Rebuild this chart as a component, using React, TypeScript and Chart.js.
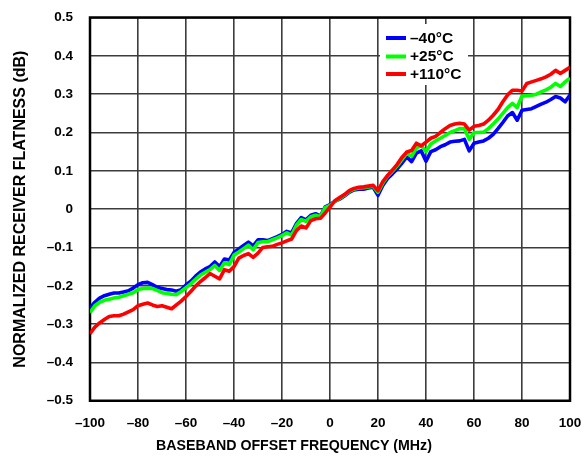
import React, { useEffect, useRef } from "react";
import { Chart, registerables } from "chart.js";

Chart.register(...registerables);

const FREQ_MHZ = [
  -100, -98, -96, -94, -92, -90, -88, -86, -84, -82, -80, -78, -76, -74, -72, -70, -68, -66, -64, -62,
  -60, -58, -56, -54, -52, -50, -48, -46, -44, -42, -40, -38, -36, -34, -32, -30, -28, -26, -24, -22,
  -20, -18, -16, -14, -12, -10, -8, -6, -4, -2, 0, 2, 4, 6, 8, 10, 12, 14, 16, 18,
  20, 22, 24, 26, 28, 30, 32, 34, 36, 38, 40, 42, 44, 46, 48, 50, 52, 54, 56, 58,
  60, 62, 64, 66, 68, 70, 72, 74, 76, 78, 80, 82, 84, 86, 88, 90, 92, 94, 96, 98, 100,
];

const FLAT_M40C = [
  -0.258, -0.243, -0.232, -0.226, -0.222, -0.219, -0.219, -0.216, -0.213, -0.206, -0.197, -0.192, -0.191, -0.197, -0.204, -0.207, -0.21, -0.211, -0.214, -0.21,
  -0.198, -0.188, -0.175, -0.164, -0.156, -0.15, -0.138, -0.15, -0.13, -0.133, -0.113, -0.104, -0.095, -0.086, -0.096, -0.08, -0.08, -0.082, -0.077, -0.072,
  -0.066, -0.058, -0.062, -0.038, -0.022, -0.028, -0.016, -0.012, -0.018, 0.006, 0.012, 0.02, 0.026, 0.034, 0.044, 0.05, 0.052, 0.052, 0.055, 0.057,
  0.036, 0.062, 0.08, 0.092, 0.105, 0.12, 0.136, 0.124, 0.146, 0.152, 0.125, 0.15, 0.155, 0.163, 0.168, 0.175, 0.177, 0.178, 0.182, 0.152,
  0.172, 0.175, 0.178, 0.185, 0.195, 0.21, 0.226, 0.243, 0.252, 0.232, 0.258, 0.26, 0.262, 0.268, 0.274, 0.279, 0.286, 0.294, 0.29, 0.28, 0.298,
];

const FLAT_P25C = [
  -0.27, -0.252, -0.243, -0.238, -0.235, -0.232, -0.23, -0.226, -0.222, -0.218, -0.21, -0.207, -0.206, -0.207, -0.212, -0.218, -0.22, -0.222, -0.223, -0.215,
  -0.205, -0.195, -0.183, -0.172, -0.165, -0.158, -0.147, -0.16, -0.14, -0.145, -0.12, -0.112, -0.103, -0.094, -0.106, -0.087, -0.085, -0.085, -0.08, -0.075,
  -0.069, -0.062, -0.068, -0.042, -0.027, -0.032, -0.02, -0.016, -0.02, 0.004, 0.01, 0.02, 0.028, 0.036, 0.046, 0.052, 0.055, 0.056, 0.058, 0.06,
  0.044, 0.068, 0.086, 0.099, 0.113, 0.129, 0.146, 0.138, 0.16, 0.166, 0.15, 0.17, 0.178, 0.185, 0.192, 0.2, 0.205, 0.21, 0.21, 0.182,
  0.2, 0.2, 0.201, 0.21, 0.222, 0.235, 0.25, 0.265, 0.276, 0.265, 0.295, 0.296, 0.297, 0.3, 0.306, 0.311, 0.318, 0.328, 0.32, 0.332, 0.342,
];

const FLAT_P110C = [
  -0.325, -0.308, -0.297, -0.288, -0.28, -0.278, -0.278, -0.274, -0.268, -0.262, -0.252, -0.248, -0.245, -0.25, -0.254, -0.252, -0.256, -0.26, -0.25, -0.24,
  -0.228, -0.215, -0.201, -0.189, -0.179, -0.168, -0.175, -0.182, -0.158, -0.162, -0.15, -0.128, -0.121, -0.116, -0.126, -0.115, -0.1, -0.098, -0.097, -0.092,
  -0.088, -0.083, -0.078, -0.056, -0.044, -0.049, -0.03, -0.025, -0.024, -0.01, 0.005, 0.022, 0.03, 0.038, 0.048, 0.054, 0.057, 0.058, 0.06, 0.062,
  0.048, 0.072, 0.088, 0.102, 0.117, 0.135, 0.149, 0.153, 0.172, 0.165, 0.175, 0.185, 0.19, 0.2, 0.21, 0.218, 0.222, 0.224, 0.222, 0.206,
  0.216, 0.218, 0.222, 0.232, 0.245, 0.26, 0.28, 0.298, 0.31, 0.31, 0.308, 0.328, 0.332, 0.336, 0.34, 0.345, 0.352, 0.362, 0.354, 0.362, 0.37,
];

const SERIES_LABELS = ["\u201340\u00B0C", "+25\u00B0C", "+110\u00B0C"];
const SERIES_COLORS = ["#0000ff", "#00ff00", "#ff0000"];

const X_TITLE = "BASEBAND OFFSET FREQUENCY (MHz)";
const Y_TITLE = "NORMALIZED RECEIVER FLATNESS (dB)";

const FONT = "'Liberation Sans', Arial, Helvetica, sans-serif";

function fmt(v: number): string {
  const r = Math.round(v * 10) / 10;
  if (r === 0) return "0";
  const isInt = Math.abs(r - Math.round(r)) < 1e-9 && Math.abs(r) >= 1;
  const s = isInt ? String(Math.abs(r)) : Math.abs(r).toFixed(1);
  return r < 0 ? "\u2013" + s : s;
}

function noPad(s: any) {
  s.paddingTop = 0;
  s.paddingBottom = 0;
  s.paddingLeft = 0;
  s.paddingRight = 0;
}

const framePlugin = {
  id: "frame",
  beforeDatasetsDraw(chart: any) {
    const { ctx, chartArea } = chart;
    ctx.save();
    ctx.strokeStyle = "#000";
    ctx.lineWidth = 2.5;
    ctx.strokeRect(chartArea.left, chartArea.top, chartArea.right - chartArea.left, chartArea.bottom - chartArea.top);
    ctx.restore();
  },
};

const legendPlugin = {
  id: "insideLegend",
  afterDatasetsDraw(chart: any) {
    const { ctx, chartArea } = chart;
    const x0 = chartArea.left + 290;
    const y0 = chartArea.top + 6.5;
    ctx.save();
    ctx.fillStyle = "#fff";
    ctx.fillRect(x0, y0, 88, 61);
    const rows = [14, 32.5, 50];
    ctx.font = `bold 15.5px ${FONT}`;
    ctx.textBaseline = "middle";
    ctx.textAlign = "left";
    SERIES_LABELS.forEach((lab, i) => {
      const y = y0 + rows[i];
      ctx.strokeStyle = SERIES_COLORS[i];
      ctx.lineWidth = 4;
      ctx.beginPath();
      ctx.moveTo(x0 + 6, y);
      ctx.lineTo(x0 + 26, y);
      ctx.stroke();
      ctx.fillStyle = "#000";
      ctx.fillText(lab, x0 + 30, y + 0.5);
    });
    ctx.restore();
  },
};

export default function App() {
  const ref = useRef<HTMLCanvasElement | null>(null);

  useEffect(() => {
    if (!ref.current) return;
    const seriesValues = [FLAT_M40C, FLAT_P25C, FLAT_P110C];
    const orders = [3, 2, 1];
    const chart = new Chart(ref.current, {
      type: "line",
      data: {
        datasets: seriesValues.map((vals, i) => ({
          label: SERIES_LABELS[i],
          data: FREQ_MHZ.map((f, k) => ({ x: f, y: vals[k] })),
          borderColor: SERIES_COLORS[i],
          backgroundColor: SERIES_COLORS[i],
          borderWidth: 3.6,
          pointRadius: 0,
          tension: 0,
          borderJoinStyle: "round" as const,
          order: orders[i],
        })),
      },
      options: {
        animation: false,
        responsive: false,
        devicePixelRatio: 1,
        layout: { padding: { left: 0, right: 0, top: 17.5, bottom: 0 } },
        plugins: {
          legend: { display: false },
          tooltip: { enabled: false },
          title: {
            display: true,
            position: "bottom",
            text: X_TITLE,
            color: "#000",
            font: { family: FONT, size: 14.2, weight: "bold" },
            padding: { top: 6, bottom: 4 },
          },
        },
        scales: {
          x: {
            type: "linear",
            min: -100,
            max: 100,
            afterFit: (s: any) => {
              s.height = 31.2;
              noPad(s);
            },
            ticks: {
              stepSize: 20,
              padding: 14,
              color: "#000",
              font: { family: FONT, size: 13.5, weight: "bold" },
              callback: (v: any) => fmt(Number(v)),
              maxRotation: 0,
            },
            grid: { color: "#3c3c3c", lineWidth: 1.6, drawTicks: false },
            border: { display: false },
          },
          y: {
            type: "linear",
            position: "left",
            min: -0.5,
            max: 0.5,
            afterFit: (s: any) => {
              s.width = 90;
              noPad(s);
            },
            ticks: {
              stepSize: 0.1,
              padding: 17,
              color: "#000",
              font: { family: FONT, size: 13.5, weight: "bold" },
              callback: (v: any) => fmt(Number(v)),
            },
            grid: { color: "#3c3c3c", lineWidth: 1.6, drawTicks: false },
            border: { display: false },
            title: {
              display: true,
              text: Y_TITLE,
              color: "#000",
              font: { family: FONT, size: 16, weight: "bold" },
              padding: { top: 11, bottom: 0 },
            },
          },
          yRight: {
            type: "linear",
            position: "right",
            min: -0.5,
            max: 0.5,
            afterFit: (s: any) => {
              s.width = 18;
              noPad(s);
            },
            ticks: { display: false },
            grid: { display: false, drawTicks: false },
            border: { display: false },
          },
        },
      },
      plugins: [framePlugin, legendPlugin],
    });
    return () => chart.destroy();
  }, []);

  return (
    <div style={{ position: "fixed", left: 0, top: 0, width: 588, height: 459, background: "#fff" }}>
      <canvas ref={ref} width={588} height={459} style={{ width: 588, height: 459, display: "block" }} />
    </div>
  );
}
